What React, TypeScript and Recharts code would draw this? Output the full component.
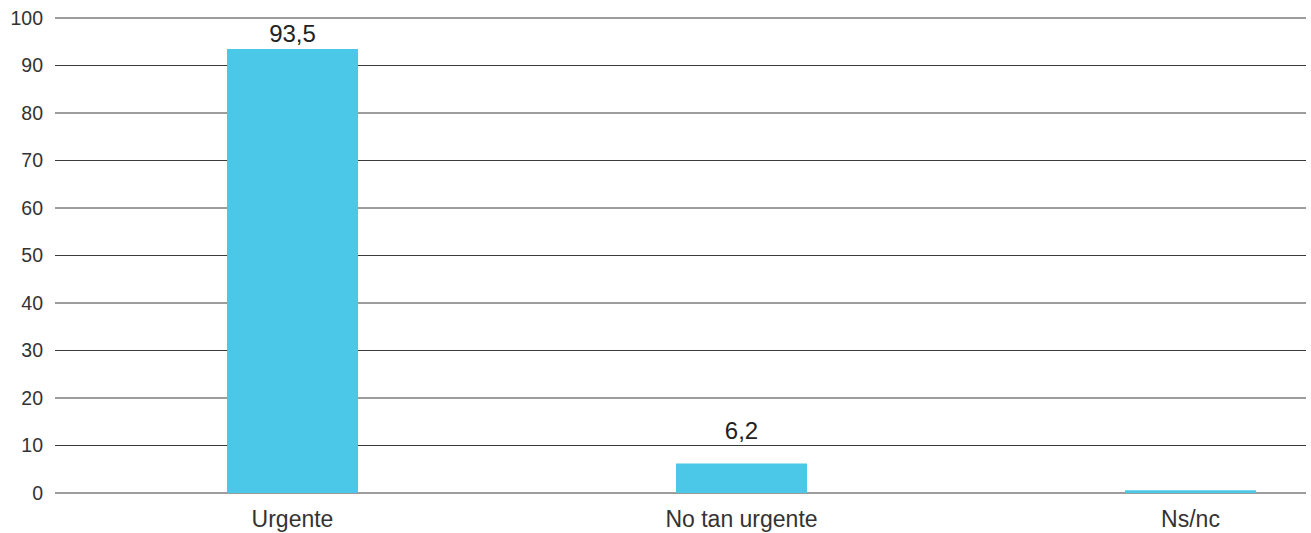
import { BarChart, Bar, XAxis, YAxis, CartesianGrid, LabelList } from 'recharts';

const categories = ['Urgente', 'No tan urgente', 'Ns/nc'];
const percentages = [93.5, 6.2, 0.6];
const showValue = [true, true, false];
const yTicks = [0, 10, 20, 30, 40, 50, 60, 70, 80, 90, 100];

const data = categories.map((name, i) => ({ name, value: percentages[i], show: showValue[i] }));

const FONT = '"Liberation Sans", Arial, sans-serif';
const TEXT = '#333333';
const BAR = '#4bc8e7';

// value labels sit above the bar, but never above the top gridline area
const ValueLabel = (props: any) => {
  const { x, y, width, value, index } = props;
  if (!data[index].show) return null;
  const baseline = Math.max(y - 25, 42);
  return (
    <text x={x + width / 2} y={baseline} textAnchor="middle" fontSize={24} fill="#222" fontFamily={FONT}>
      {Number(value).toLocaleString('es-ES')}
    </text>
  );
};

export default function App() {
  return (
    <div style={{ position: 'absolute', left: 0, top: 0, background: '#fff' }}>
      <BarChart width={1311} height={533} data={data} margin={{ top: 18, right: 5, bottom: 0, left: 0 }}>
        <CartesianGrid vertical={false} stroke="#3a3a3a" strokeWidth={1} />
        <XAxis
          dataKey="name"
          height={40}
          axisLine={false}
          tickLine={false}
          tickMargin={12}
          padding={{ left: 13, right: -109 }}
          tick={{ fontSize: 23, fill: TEXT, fontFamily: FONT }}
          interval={0}
        />
        <YAxis
          domain={[0, 100]}
          ticks={yTicks}
          width={55}
          axisLine={false}
          tickLine={false}
          tickMargin={6}
          tick={{ fontSize: 19.5, fill: TEXT, fontFamily: FONT }}
        />
        <Bar dataKey="value" fill={BAR} barSize={131} isAnimationActive={false}>
          <LabelList dataKey="value" content={ValueLabel} />
        </Bar>
      </BarChart>
    </div>
  );
}
